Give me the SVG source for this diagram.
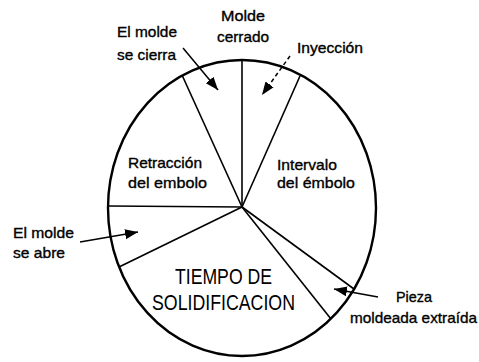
<svg xmlns="http://www.w3.org/2000/svg" width="479" height="362" viewBox="0 0 479 362">
<style>
text{font-family:"Liberation Sans",Arial,sans-serif;font-size:15px;fill:#000;stroke:#000;stroke-width:0.35}
.big{font-size:22px;stroke-width:0}
.rim{fill:none;stroke:#000;stroke-width:2.4}
.rad{stroke:#000;stroke-width:1.6;fill:none}
.arr{stroke:#000;stroke-width:1.5;fill:none;marker-end:url(#ah)}
.dash{stroke-dasharray:4 3}
</style>
<defs>
<marker id="ah" markerUnits="userSpaceOnUse" markerWidth="14" markerHeight="11" refX="13" refY="5" orient="auto">
<path d="M0,0 L13,5 L0,10 z" fill="#000"/>
</marker>
</defs>
<rect width="479" height="362" fill="#fff"/>
<g id="pie">
<ellipse class="rim" cx="242" cy="208" rx="134" ry="148"/>
</g>
<g id="radii">
<line class="rad" x1="242" y1="207" x2="242" y2="60"/>
<line class="rad" x1="242" y1="207" x2="182" y2="75"/>
<line class="rad" x1="242" y1="207" x2="300" y2="76"/>
<line class="rad" x1="242" y1="207" x2="108" y2="206"/>
<line class="rad" x1="242" y1="207" x2="119" y2="267"/>
<line class="rad" x1="242" y1="207" x2="354" y2="289"/>
<line class="rad" x1="242" y1="207" x2="331" y2="319"/>
</g>
<g id="molde-cerrado">
<text x="221" y="21" textLength="44" lengthAdjust="spacingAndGlyphs">Molde</text>
<text x="217" y="42" textLength="52" lengthAdjust="spacingAndGlyphs">cerrado</text>
</g>
<g id="molde-se-cierra">
<text x="117" y="37" textLength="60" lengthAdjust="spacingAndGlyphs">El molde</text>
<text x="117" y="60" textLength="59" lengthAdjust="spacingAndGlyphs">se cierra</text>
</g>
<g id="inyeccion">
<text x="297" y="53" textLength="66" lengthAdjust="spacingAndGlyphs">Inyección</text>
</g>
<g id="retraccion">
<text x="128" y="168" textLength="74" lengthAdjust="spacingAndGlyphs">Retracción</text>
<text x="128" y="188" textLength="79" lengthAdjust="spacingAndGlyphs">del embolo</text>
</g>
<g id="intervalo">
<text x="277" y="170" textLength="60" lengthAdjust="spacingAndGlyphs">Intervalo</text>
<text x="277" y="188" textLength="78" lengthAdjust="spacingAndGlyphs">del émbolo</text>
</g>
<g id="molde-se-abre">
<text x="13" y="238" textLength="61" lengthAdjust="spacingAndGlyphs">El molde</text>
<text x="13" y="258" textLength="52" lengthAdjust="spacingAndGlyphs">se abre</text>
</g>
<g id="tiempo">
<text class="big" x="175" y="284" textLength="97" lengthAdjust="spacingAndGlyphs">TIEMPO DE</text>
<text class="big" x="152" y="310" textLength="143" lengthAdjust="spacingAndGlyphs">SOLIDIFICACION</text>
</g>
<g id="pieza">
<text x="396" y="302" textLength="36" lengthAdjust="spacingAndGlyphs">Pieza</text>
<text x="350" y="323" textLength="127" lengthAdjust="spacingAndGlyphs">moldeada extraída</text>
</g>
<g id="connectors">
<line class="arr" x1="183" y1="48" x2="218" y2="90"/>
<line class="arr dash" x1="290" y1="56" x2="262" y2="95"/>
<line class="arr" x1="80" y1="242" x2="138" y2="232"/>
<line class="arr" x1="378" y1="297" x2="334" y2="289"/>
</g>
</svg>
